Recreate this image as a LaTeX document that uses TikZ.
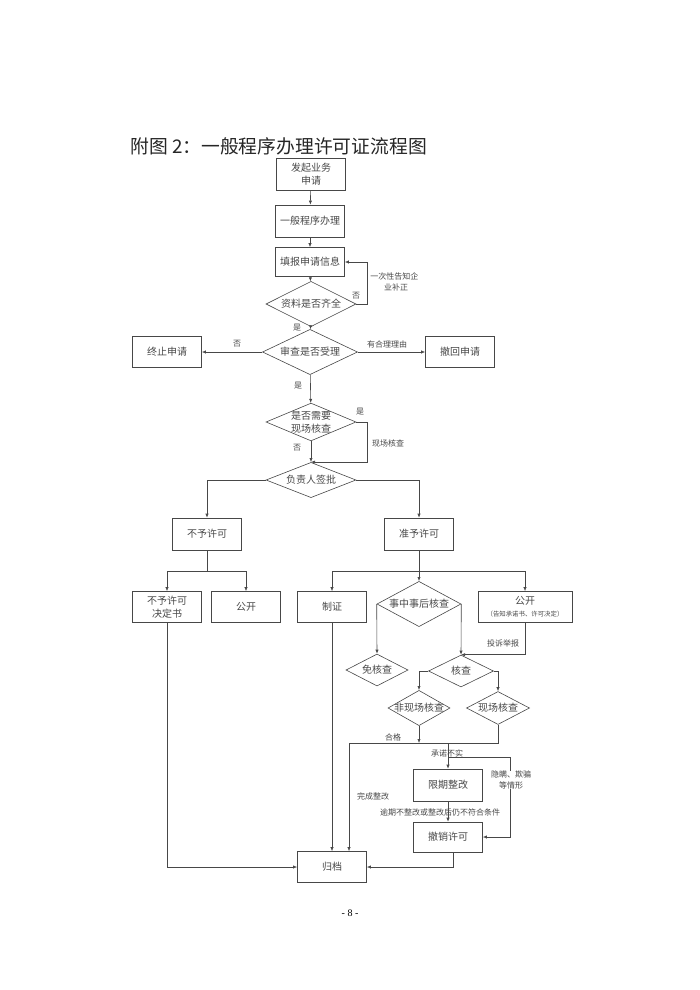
\documentclass[tikz,border=0pt]{standalone}
\usepackage{fontspec}
\setmainfont{Noto Sans CJK SC}
\newfontfamily\pagefont{Liberation Serif}
\usetikzlibrary{positioning,calc,shapes.geometric,arrows.meta}

\begin{document}
\begin{tikzpicture}[x=1pt,y=-1pt,auto,color=black!72,line width=0.6pt,>={Latex[length=4pt,width=3.2pt]}]
                    \tikzstyle{every node}=[inner sep=0,font=\fontsize{10}{13}\selectfont,align=center]
                    \tikzstyle{box}=[draw,rectangle,minimum width=69,minimum height=31]
                    \tikzstyle{dec}=[draw,diamond,inner sep=-6pt,minimum width=90,minimum height=33]
                    \tikzstyle{note}=[font=\fontsize{8}{11}\selectfont]
                    \tikzstyle{hide}=[note,fill=white]
                    \useasboundingbox (0,0) rectangle (700,990);
                    {
                        \node[anchor=west,font=\fontsize{18.8}{21}\selectfont,text=black!85] (title) at (130,146) {附图 2：一般程序办理许可证流程图};

                        \node[box,minimum height=32] (apply) at (311,174) {发起业务\\申请};
                        \node[box,minimum height=32] (general) at (310,221) {一般程序办理};
                        \node[box,minimum height=29] (fill) at (310,262) {填报申请信息};
                        \node[dec,minimum height=31] (complete) at (311,304) {资料是否齐全};
                        \node[dec,minimum width=95,minimum height=30] (review) at (310,352) {审查是否受理};
                        \node[box] (stop) at (167,352) {终止申请};
                        \node[box] (withdraw) at (460,352) {撤回申请};
                        \node[dec,minimum height=35] (onsite) at (311,422) {是否需要\\现场核查};
                        \node[dec,minimum height=35] (sign) at (311,480) {负责人签批};

                        \node[box,minimum height=32] (deny) at (207,534) {不予许可};
                        \node[box,minimum height=32] (grant) at (419,534) {准予许可};
                        \node[box] (denydoc) at (167,607) {不予许可\\决定书};
                        \node[box] (pubdeny) at (246,607) {公开};
                        \node[box] (cert) at (332,607) {制证};
                        \node[dec,minimum width=84,minimum height=36] (supervise) at (419,604) {事中事后核查};
                        \node[box,minimum width=94] (pubgrant) at (525,607) {公开\\[-1pt]{\fontsize{6.4}{8}\selectfont （告知承诺书、许可决定）}};

                        \node[dec,minimum width=62,minimum height=32] (exempt) at (377,670) {免核查};
                        \node[dec,minimum width=65,minimum height=32] (check) at (461,671) {核查};
                        \node[dec,minimum width=62,minimum height=33] (remote) at (419,708) {非现场核查};
                        \node[dec,minimum width=63,minimum height=33] (field) at (498,708) {现场核查};

                        \node[box,minimum height=32] (rectify) at (448,785) {限期整改};
                        \node[box,minimum height=30] (revoke) at (448,837) {撤销许可};
                        \node[box] (archive) at (332,867) {归档};

                        \coordinate (qline) at (349,743);
                        \coordinate (fraud) at (510,757);

                        \path[->]
                            (apply) edge (general)
                            (general) edge (fill)
                            (fill) edge (complete)
                            (complete) edge (review)
                            (review) edge (stop)
                            (review) edge (withdraw)
                            (review) edge (onsite)
                            (onsite) edge (sign)
                            (rectify) edge (revoke)
                            (cert) edge (archive);

                        \draw[->] (complete.east) -- ++(11,0) |- (fill.east);
                        \draw[->] (onsite.east) -- ++(11,0) |- (sign.north);
                        \draw[->] (sign.west) -| (deny.north);
                        \draw[->] (sign.east) -| (grant.north);

                        \draw (deny.south) -- ++(0,21) coordinate (dsplit);
                        \draw[->] (dsplit) -| (denydoc.north);
                        \draw[->] (dsplit) -| (pubdeny.north);
                        \draw (grant.south) -- ++(0,21) coordinate (gsplit);
                        \draw[->] (gsplit) -| (cert.north);
                        \draw[->] (gsplit) -- (supervise.north);
                        \draw[->] (gsplit) -| (pubgrant.north);

                        \draw[->] (supervise.west) -- (exempt.north);
                        \draw[->] (supervise.east) -- (check.north);
                        \draw[->] (pubgrant.south) |- (check.north);
                        \draw[->] (check.west) -| (remote.north);
                        \draw[->] (check.east) -| (field.north);

                        \draw[->] (remote.south) -- (remote.south |- qline);
                        \draw[->] (field.south) |- (qline) -- (qline |- archive.north);
                        \draw[->] (rectify.north |- qline) -- (rectify.north);
                        \draw[->] (rectify.north |- fraud) -- (fraud) |- (revoke.east);
                        \draw[->] ([xshift=5]revoke.south) |- (archive.east);
                        \draw[->] (denydoc.south) |- (archive.west);

                        \node[note] at (356,296) {否};
                        \node[note,anchor=west] at (370,276) {一次性告知企};
                        \node[note] at (396,287) {业补正};
                        \node[note] at (297,328) {是};
                        \node[note] at (237,344) {否};
                        \node[note] at (387,344) {有合理理由};
                        \node[note] at (298,386) {是};
                        \node[note] at (360,412) {是};
                        \node[note] at (388,443) {现场核查};
                        \node[note] at (297,448) {否};
                        \node[note] at (503,643) {投诉举报};
                        \node[note] at (393,737) {合格};
                        \node[note] at (447,753) {承诺不实};
                        \node[hide] at (511,780) {隐瞒、欺骗\\等情形};
                        \node[note] at (373,796) {完成整改};
                        \node[note] at (440,812) {逾期不整改或整改后仍不符合条件};

                        \node[font=\pagefont\fontsize{10}{12}\selectfont,text=black] (page) at (350,913) {- 8 -};
                    }
                \end{tikzpicture}
\end{document}
